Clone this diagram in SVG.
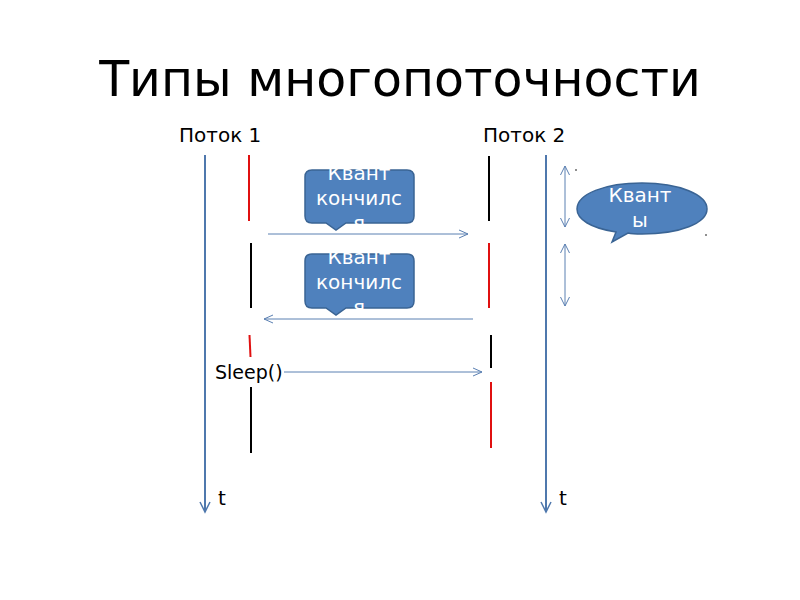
<svg xmlns="http://www.w3.org/2000/svg" width="800" height="600" viewBox="0 0 800 600">
<style>
text{font-family:"DejaVu Sans","Liberation Sans",sans-serif;fill:#000}
.axis{stroke:#4F78AD;stroke-width:2;fill:none}
.conn{stroke:#5B80B2;stroke-width:1;fill:none}
.red{stroke:#E01010;stroke-width:2}
.blk{stroke:#000;stroke-width:2}
.call{fill:#4F81BD;stroke:#3A6494;stroke-width:1.5}
.ct{fill:#fff;font-size:20px;text-anchor:middle}
.lbl{font-size:20px}
</style>
<defs>
<marker id="open" markerWidth="12" markerHeight="12" refX="10" refY="5" orient="auto" markerUnits="userSpaceOnUse">
<path d="M1,1 L10,5 L1,9" fill="none" stroke="#5B80B2" stroke-width="1"/>
</marker>
<marker id="openAx" markerWidth="14" markerHeight="14" refX="11" refY="6" orient="auto" markerUnits="userSpaceOnUse">
<path d="M1,1 L11,6 L1,11" fill="none" stroke="#4F78AD" stroke-width="1.5"/>
</marker>
<marker id="openS" markerWidth="14" markerHeight="14" refX="10" refY="6" orient="auto-start-reverse" markerUnits="userSpaceOnUse">
<path d="M1,1.5 L10,6 L1,10.5" fill="none" stroke="#5B80B2" stroke-width="1"/>
</marker>
</defs>
<rect width="800" height="600" fill="#fff"/>
<text x="400" y="96" font-size="49" text-anchor="middle">Типы многопоточности</text>

<g id="thread1">
<text class="lbl" x="179" y="142">Поток 1</text>
<line class="axis" x1="205" y1="155" x2="205" y2="512" marker-end="url(#openAx)"/>
<text class="lbl" x="218" y="505">t</text>
<line class="red" x1="249" y1="155" x2="249" y2="221"/>
<line class="blk" x1="251" y1="243" x2="251" y2="308"/>
<line class="red" x1="249.5" y1="335" x2="250.5" y2="357"/>
<line class="blk" x1="251" y1="387" x2="251" y2="453"/>
</g>

<g id="thread2">
<text class="lbl" x="483" y="142">Поток 2</text>
<line class="axis" x1="546" y1="155" x2="546" y2="512" marker-end="url(#openAx)"/>
<text class="lbl" x="559" y="505">t</text>
<line class="blk" x1="489" y1="156" x2="489" y2="221"/>
<line class="red" x1="489" y1="243" x2="489" y2="308"/>
<line class="blk" x1="491" y1="335" x2="491" y2="368"/>
<line class="red" x1="491" y1="382" x2="491" y2="448"/>
</g>

<g id="connectors">
<line class="conn" x1="268" y1="234" x2="468" y2="234" marker-end="url(#open)"/>
<line class="conn" x1="473" y1="319" x2="264" y2="319" marker-end="url(#open)"/>
<line class="conn" x1="284" y1="372" x2="482" y2="372" marker-end="url(#open)"/>
<line class="conn" x1="565" y1="166" x2="565" y2="227" marker-start="url(#openS)" marker-end="url(#openS)"/>
<line class="conn" x1="565" y1="244" x2="565" y2="306" marker-start="url(#openS)" marker-end="url(#openS)"/>
</g>

<g id="sleep">
<text x="215" y="379" font-size="19">Sleep()</text>
</g>

<g id="callout1">
<path class="call" d="M312,170 H407 Q414,170 414,177 V216 Q414,223 407,223 H346 L336,230 L326,223 H312 Q305,223 305,216 V177 Q305,170 312,170 Z"/>
<text class="ct" x="359" y="180">Квант</text>
<text class="ct" x="359" y="205">кончилс</text>
<text class="ct" x="359" y="230">я</text>
</g>

<g id="callout2">
<path class="call" d="M312,254 H407 Q414,254 414,261 V301 Q414,308 407,308 H346 L336,315 L326,308 H312 Q305,308 305,301 V261 Q305,254 312,254 Z"/>
<text class="ct" x="359" y="264">Квант</text>
<text class="ct" x="359" y="289">кончилс</text>
<text class="ct" x="359" y="314">я</text>
</g>

<g id="callout3">
<path class="call" d="M616,232 C590,228 577,219 577,209 C577,194 605,183 642,183 C680,183 707,195 707,209 C707,223 680,234 642,234 C637,234 632,234 628,233 L612,242 Z"/>
<text class="ct" x="640" y="202">Квант</text>
<text class="ct" x="640" y="227">ы</text>
<circle cx="576" cy="170" r="0.8" fill="#000"/>
<circle cx="706" cy="235" r="0.8" fill="#000"/>
</g>
</svg>
